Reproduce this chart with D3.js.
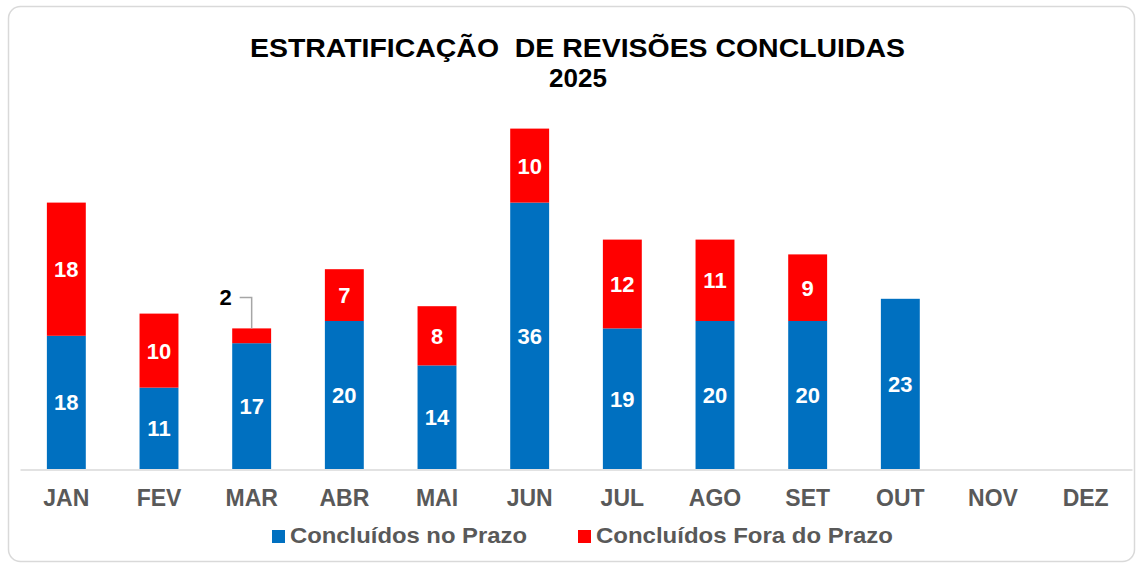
<!DOCTYPE html>
<html>
<head>
<meta charset="utf-8">
<script src="https://cdn.jsdelivr.net/npm/d3@7"></script>
<style>
  body { margin: 0; background: #fff; }
  text { font-family: "Liberation Sans", Arial, sans-serif; font-weight: bold; }
</style>
</head>
<body>
<script>
var meses = ["JAN","FEV","MAR","ABR","MAI","JUN","JUL","AGO","SET","OUT","NOV","DEZ"];
var noPrazo = [18, 11, 17, 20, 14, 36, 19, 20, 20, 23, null, null];
var foraPrazo = [18, 10, 2, 7, 8, 10, 12, 11, 9, null, null, null];
var series = ["Concluídos no Prazo", "Concluídos Fora do Prazo"];
var cores = ["#0070C0", "#FF0000"];

var width = 1136, height = 564;

var svg = d3.select("body")
  .append("svg")
  .attr("width", width)
  .attr("height", height);

// moldura
svg.append("rect")
  .attr("x", 8.5).attr("y", 6.5)
  .attr("width", 1126).attr("height", 555)
  .attr("rx", 12)
  .attr("fill", "#fff")
  .attr("stroke", "#d9d9d9")
  .attr("stroke-width", 1.5);

// titulo
svg.append("text")
  .attr("x", 250).attr("y", 57)
  .attr("font-size", 26)
  .attr("fill", "#000")
  .attr("textLength", 655)
  .attr("lengthAdjust", "spacingAndGlyphs")
  .style("white-space", "pre")
  .text("ESTRATIFICAÇÃO  DE REVISÕES CONCLUIDAS");
svg.append("text")
  .attr("x", 578).attr("y", 87)
  .attr("text-anchor", "middle")
  .attr("font-size", 26)
  .attr("fill", "#000")
  .text("2025");

var x = d3.scaleBand()
  .domain(meses)
  .range([20, 1132])
  .paddingInner(0.58)
  .paddingOuter(0.29);

var y = d3.scaleLinear()
  .domain([0, 50])
  .range([469, 99]);

var dados = meses.map(function(m, i){
  return {mes: m, a: noPrazo[i] || 0, b: foraPrazo[i] || 0};
});

var g = svg.append("g");

// barras azuis
g.selectAll("rect.azul")
  .data(dados.filter(d => d.a > 0))
  .join("rect")
  .attr("class", "azul")
  .attr("x", d => x(d.mes))
  .attr("y", d => y(d.a))
  .attr("width", x.bandwidth())
  .attr("height", d => y(0) - y(d.a))
  .attr("fill", cores[0]);

// barras vermelhas
g.selectAll("rect.verm")
  .data(dados.filter(d => d.b > 0))
  .join("rect")
  .attr("class", "verm")
  .attr("x", d => x(d.mes))
  .attr("y", d => y(d.a + d.b))
  .attr("width", x.bandwidth())
  .attr("height", d => y(d.a) - y(d.a + d.b))
  .attr("fill", cores[1]);

// rotulos azuis
g.selectAll("text.la")
  .data(dados.filter(d => d.a > 0))
  .join("text")
  .attr("class", "la")
  .attr("x", d => x(d.mes) + x.bandwidth() / 2)
  .attr("y", d => y(d.a / 2) + 8)
  .attr("text-anchor", "middle")
  .attr("font-size", 22)
  .attr("fill", "#fff")
  .text(d => d.a);

// rotulos vermelhos (segmentos pequenos ficam fora com linha)
g.selectAll("text.lb")
  .data(dados.filter(d => d.b > 2))
  .join("text")
  .attr("class", "lb")
  .attr("x", d => x(d.mes) + x.bandwidth() / 2)
  .attr("y", d => y(d.a + d.b / 2) + 8)
  .attr("text-anchor", "middle")
  .attr("font-size", 22)
  .attr("fill", "#fff")
  .text(d => d.b);

var peq = dados.filter(d => d.b > 0 && d.b <= 2);
peq.forEach(function(d){
  var cx = x(d.mes) + x.bandwidth() / 2;
  var topo = y(d.a + d.b);
  svg.append("polyline")
    .attr("points", [[cx - 12, topo - 31], [cx, topo - 31], [cx, topo]].join(" "))
    .attr("fill", "none")
    .attr("stroke", "#a6a6a6")
    .attr("stroke-width", 1.5);
  svg.append("text")
    .attr("x", cx - 26)
    .attr("y", topo - 23)
    .attr("text-anchor", "middle")
    .attr("font-size", 22)
    .attr("fill", "#000")
    .text(d.b);
});

// eixo x
var xAxis = d3.axisBottom(x).tickSize(0).tickPadding(20);
var ax = svg.append("g")
  .attr("transform", "translate(0,469.5)")
  .call(xAxis);
ax.select(".domain").attr("stroke", "#d9d9d9").attr("stroke-width", 1.5);
ax.selectAll("text")
  .attr("font-size", 23)
  .attr("font-family", "Liberation Sans, Arial, sans-serif")
  .attr("font-weight", "bold")
  .attr("fill", "#595959");

// legenda
var leg = [{x: 272, w: 237, cor: cores[0], txt: series[0]}, {x: 578, w: 297, cor: cores[1], txt: series[1]}];
var lg = svg.selectAll("g.leg")
  .data(leg)
  .join("g")
  .attr("class", "leg")
  .attr("transform", d => "translate(" + d.x + ",530)");
lg.append("rect")
  .attr("width", 13).attr("height", 13)
  .attr("fill", d => d.cor);
lg.append("text")
  .attr("x", 18).attr("y", 13)
  .attr("font-size", 22.5)
  .attr("fill", "#595959")
  .attr("textLength", d => d.w)
  .attr("lengthAdjust", "spacingAndGlyphs")
  .text(d => d.txt);
</script>
</body>
</html>
